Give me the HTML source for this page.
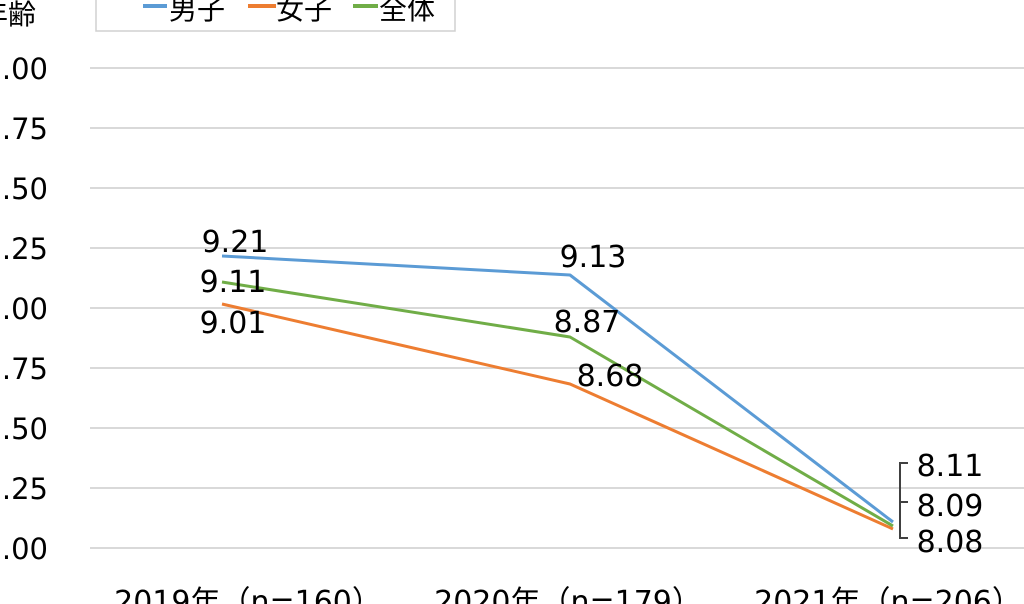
<!DOCTYPE html><html><head><meta charset="utf-8"><style>html,body{margin:0;padding:0;background:#fff;width:1024px;height:604px;overflow:hidden}text{font-family:"DejaVu Sans","Liberation Sans","Noto Sans CJK JP",sans-serif;fill:#000}</style></head><body>
<svg width="1024" height="604" viewBox="0 0 1024 604" xmlns="http://www.w3.org/2000/svg">
<g stroke="#d9d9d9" stroke-width="2">
<line x1="90" y1="68" x2="1024" y2="68"/><line x1="90" y1="128" x2="1024" y2="128"/><line x1="90" y1="188" x2="1024" y2="188"/><line x1="90" y1="248" x2="1024" y2="248"/><line x1="90" y1="308" x2="1024" y2="308"/><line x1="90" y1="368" x2="1024" y2="368"/><line x1="90" y1="428" x2="1024" y2="428"/><line x1="90" y1="488" x2="1024" y2="488"/><line x1="90" y1="548" x2="1024" y2="548"/>
</g>
<g font-size="29" text-anchor="end">
<text x="48" y="79">0.00</text><text x="48" y="139">9.75</text><text x="48" y="199">9.50</text><text x="48" y="259">9.25</text><text x="48" y="319">9.00</text><text x="48" y="379">8.75</text><text x="48" y="439">8.50</text><text x="48" y="499">8.25</text><text x="48" y="559">8.00</text>
</g>
<text x="-20" y="24" font-size="28">年齢</text>
<rect x="96" y="-2" width="359" height="33" fill="#fff" stroke="#d0d0d0" stroke-width="1.5"/>
<line x1="143" y1="6" x2="167" y2="6" stroke="#5B9BD5" stroke-width="4"/><text x="169" y="19" font-size="28">男子</text>
<line x1="248" y1="6" x2="276" y2="6" stroke="#ED7D31" stroke-width="4"/><text x="276" y="19" font-size="28">女子</text>
<line x1="353" y1="6" x2="378" y2="6" stroke="#70AD47" stroke-width="4"/><text x="379" y="19" font-size="28">全体</text>
<g fill="none" stroke-width="3" stroke-linejoin="round">
<polyline points="222,256 570,275 893,522" stroke="#5B9BD5"/>
<polyline points="222,304 570,384 893,529" stroke="#ED7D31"/>
<polyline points="222,282 570,337 893,526" stroke="#70AD47"/>
</g>
<path d="M908,463 h-8 v75 h8 M900,502 h8" fill="none" stroke="#404040" stroke-width="2"/>
<g font-size="30" text-anchor="middle">
<text x="235" y="252">9.21</text><text x="233" y="292">9.11</text><text x="233" y="333">9.01</text>
<text x="593" y="267">9.13</text><text x="587" y="332">8.87</text><text x="610" y="386">8.68</text>
<text x="950" y="476">8.11</text><text x="950" y="516">8.09</text><text x="950" y="552">8.08</text>
</g>
<g font-size="30" text-anchor="middle">
<text x="248" y="612">2019年（n=160）</text><text x="568" y="612">2020年（n=179）</text><text x="888" y="612">2021年（n=206）</text>
</g>
</svg></body></html>
